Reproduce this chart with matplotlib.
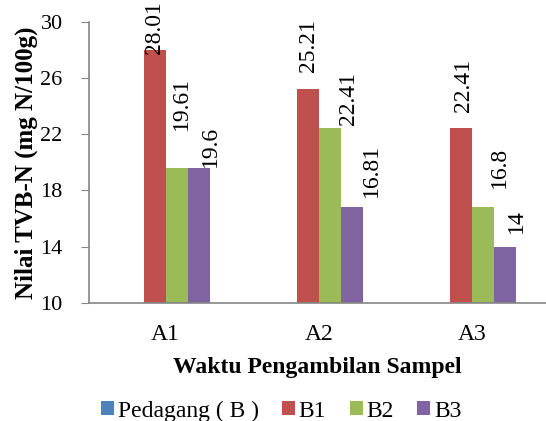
import matplotlib
matplotlib.use("Agg")
import matplotlib.pyplot as plt
import numpy as np

categories = ["A1", "A2", "A3"]
series_names = ["Pedagang ( B )", "B1", "B2", "B3"]
pedagang = [0, 0, 0]
b1 = [28.01, 25.21, 22.41]
b2 = [19.61, 22.41, 16.8]
b3 = [19.6, 16.81, 14]
label_texts = {
    "B1": ["28.01", "25.21", "22.41"],
    "B2": ["19.61", "22.41", "16.8"],
    "B3": ["19.6", "16.81", "14"],
}
colors = ["#4F81BD", "#C0504D", "#9BBB59", "#8064A2"]

# manual label placement offsets (pixels) as in the reference
label_dx = {"B1": [0, 0, 2], "B2": [5, 19, 16], "B3": [12, 19, 11]}
label_dy = {"B1": [-4, 17, 16], "B2": [38, 3, 19], "B3": [1, 10, 14]}

plt.rcParams['font.family'] = ['Liberation Serif', 'DejaVu Serif']
FS = 17

fig = plt.figure(figsize=(5.46, 4.21), dpi=100)
ax = fig.add_axes([0.163, 0.281, 0.837, 0.667])

x = np.arange(len(categories))
w = 0.143
data = [pedagang, b1, b2, b3]
for i, (name, vals, c) in enumerate(zip(series_names, data, colors)):
    pos = x + (i - 1.5) * w
    ax.bar(pos, vals, width=w, color=c, label=name, zorder=2)
    if name in label_texts:
        for j, (p, v, t) in enumerate(zip(pos, vals, label_texts[name])):
            ax.annotate(t, (p, v), xytext=(label_dx[name][j], label_dy[name][j]),
                        textcoords='offset pixels', rotation=90, ha='center',
                        va='bottom', fontsize=FS, zorder=3, annotation_clip=False)

ax.set_xlim(-0.5, 2.48)
ax.set_ylim(10, 30)
ax.set_yticks([10, 14, 18, 22, 26, 30])
ax.set_xticks(x)
ax.set_xticklabels(categories)
ax.tick_params(axis='y', direction='out', length=6, color='#868686', labelsize=16, pad=13)
ax.tick_params(axis='x', length=0, labelsize=FS, pad=15)
for s in ['top', 'right']:
    ax.spines[s].set_visible(False)
for s in ['left', 'bottom']:
    ax.spines[s].set_color('#868686')
    ax.spines[s].set_linewidth(1.2)

ax.set_ylabel("Nilai TVB-N (mg N/100g)", fontsize=18, fontweight='bold', labelpad=2)
ax.set_xlabel("Waktu Pengambilan Sampel", fontsize=FS, fontweight='bold', labelpad=9)

leg = fig.legend(loc='lower center', bbox_to_anchor=(0.515, -0.052), ncol=4, frameon=False,
                 fontsize=FS, handlelength=0.55, handleheight=0.55, handletextpad=0.15,
                 columnspacing=1.0)

fig.savefig("out.png", dpi=100)
